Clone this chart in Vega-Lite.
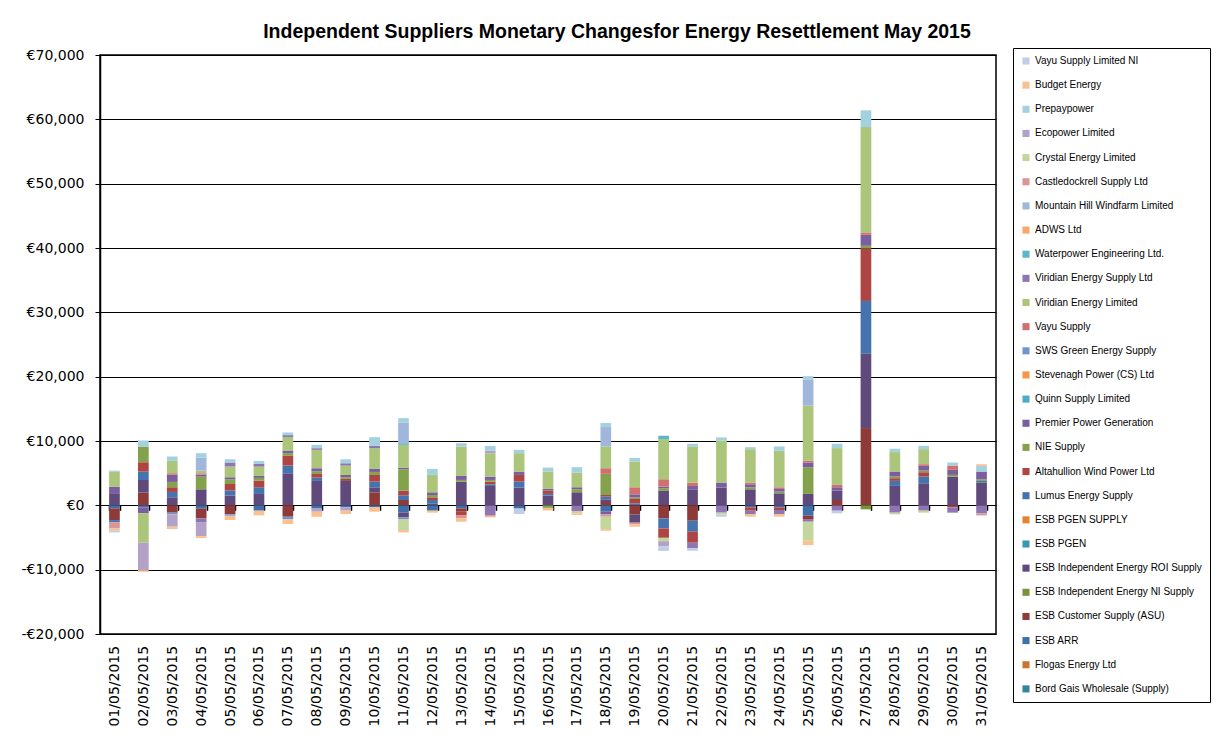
{
  "$schema": "https://vega.github.io/schema/vega-lite/v6.json",
  "width": 896,
  "height": 579,
  "autosize": "none",
  "padding": {"left": 100, "top": 55, "right": 222, "bottom": 113},
  "background": "white",
  "title": {
    "text": "Independent Suppliers Monetary Changesfor Energy Resettlement  May 2015",
    "font": "Liberation Sans",
    "fontSize": 19.5,
    "fontWeight": "bold",
    "color": "black",
    "anchor": "middle",
    "frame": "group",
    "dx": 69,
    "offset": 5
  },
  "datasets": {
    "suppliers": [
      {"k": 1, "s": "Bord Gais Wholesale (Supply)"},
      {"k": 2, "s": "Flogas Energy Ltd"},
      {"k": 3, "s": "ESB ARR"},
      {"k": 4, "s": "ESB Customer Supply (ASU)"},
      {"k": 5, "s": "ESB Independent Energy NI Supply"},
      {"k": 6, "s": "ESB Independent Energy ROI Supply"},
      {"k": 7, "s": "ESB PGEN"},
      {"k": 8, "s": "ESB PGEN SUPPLY"},
      {"k": 9, "s": "Lumus Energy Supply"},
      {"k": 10, "s": "Altahullion Wind Power Ltd"},
      {"k": 11, "s": "NIE Supply"},
      {"k": 12, "s": "Premier Power Generation"},
      {"k": 13, "s": "Quinn Supply Limited"},
      {"k": 14, "s": "Stevenagh Power (CS) Ltd"},
      {"k": 15, "s": "SWS Green Energy Supply"},
      {"k": 16, "s": "Vayu Supply"},
      {"k": 17, "s": "Viridian Energy Limited"},
      {"k": 18, "s": "Viridian Energy Supply Ltd"},
      {"k": 19, "s": "Waterpower Engineering Ltd."},
      {"k": 20, "s": "ADWS Ltd"},
      {"k": 21, "s": "Mountain Hill Windfarm Limited"},
      {"k": 22, "s": "Castledockrell Supply Ltd"},
      {"k": 23, "s": "Crystal Energy Limited"},
      {"k": 24, "s": "Ecopower Limited"},
      {"k": 25, "s": "Prepaypower"},
      {"k": 26, "s": "Budget Energy"},
      {"k": 27, "s": "Vayu Supply Limited NI"}
    ]
  },
  "data": {
    "values": [
      {"d": "01/05/2015", "k": 6, "v": 1770}, {"d": "01/05/2015", "k": 12, "v": 1140}, {"d": "01/05/2015", "k": 17, "v": 2290}, {"d": "01/05/2015", "k": 25, "v": 200},
      {"d": "01/05/2015", "k": 3, "v": -470}, {"d": "01/05/2015", "k": 4, "v": -1820}, {"d": "01/05/2015", "k": 9, "v": -360}, {"d": "01/05/2015", "k": 22, "v": -940}, {"d": "01/05/2015", "k": 26, "v": -360}, {"d": "01/05/2015", "k": 27, "v": -260},

      {"d": "02/05/2015", "k": 4, "v": 1970}, {"d": "02/05/2015", "k": 6, "v": 1970}, {"d": "02/05/2015", "k": 9, "v": 1300}, {"d": "02/05/2015", "k": 10, "v": 1460}, {"d": "02/05/2015", "k": 11, "v": 2440}, {"d": "02/05/2015", "k": 25, "v": 940},
      {"d": "02/05/2015", "k": 3, "v": -310}, {"d": "02/05/2015", "k": 12, "v": -930}, {"d": "02/05/2015", "k": 17, "v": -4570}, {"d": "02/05/2015", "k": 24, "v": -4260}, {"d": "02/05/2015", "k": 26, "v": -260},

      {"d": "03/05/2015", "k": 6, "v": 1250}, {"d": "03/05/2015", "k": 9, "v": 830}, {"d": "03/05/2015", "k": 10, "v": 730}, {"d": "03/05/2015", "k": 11, "v": 830}, {"d": "03/05/2015", "k": 12, "v": 1145}, {"d": "03/05/2015", "k": 16, "v": 210}, {"d": "03/05/2015", "k": 17, "v": 1920}, {"d": "03/05/2015", "k": 25, "v": 675},
      {"d": "03/05/2015", "k": 4, "v": -1140}, {"d": "03/05/2015", "k": 15, "v": -260}, {"d": "03/05/2015", "k": 24, "v": -1920}, {"d": "03/05/2015", "k": 26, "v": -365},

      {"d": "04/05/2015", "k": 6, "v": 2490}, {"d": "04/05/2015", "k": 11, "v": 1970}, {"d": "04/05/2015", "k": 12, "v": 310}, {"d": "04/05/2015", "k": 16, "v": 210}, {"d": "04/05/2015", "k": 17, "v": 415}, {"d": "04/05/2015", "k": 21, "v": 2030}, {"d": "04/05/2015", "k": 25, "v": 675},
      {"d": "04/05/2015", "k": 3, "v": -520}, {"d": "04/05/2015", "k": 4, "v": -1510}, {"d": "04/05/2015", "k": 18, "v": -570}, {"d": "04/05/2015", "k": 24, "v": -2180}, {"d": "04/05/2015", "k": 26, "v": -310},

      {"d": "05/05/2015", "k": 6, "v": 1510}, {"d": "05/05/2015", "k": 9, "v": 780}, {"d": "05/05/2015", "k": 10, "v": 1040}, {"d": "05/05/2015", "k": 11, "v": 730}, {"d": "05/05/2015", "k": 12, "v": 310}, {"d": "05/05/2015", "k": 17, "v": 1660}, {"d": "05/05/2015", "k": 18, "v": 620}, {"d": "05/05/2015", "k": 25, "v": 520},
      {"d": "05/05/2015", "k": 4, "v": -1400}, {"d": "05/05/2015", "k": 15, "v": -210}, {"d": "05/05/2015", "k": 26, "v": -675},

      {"d": "06/05/2015", "k": 6, "v": 1770}, {"d": "06/05/2015", "k": 9, "v": 1040}, {"d": "06/05/2015", "k": 10, "v": 1040}, {"d": "06/05/2015", "k": 11, "v": 415}, {"d": "06/05/2015", "k": 12, "v": 300}, {"d": "06/05/2015", "k": 17, "v": 1450}, {"d": "06/05/2015", "k": 18, "v": 415}, {"d": "06/05/2015", "k": 25, "v": 470},
      {"d": "06/05/2015", "k": 3, "v": -830}, {"d": "06/05/2015", "k": 26, "v": -730},

      {"d": "07/05/2015", "k": 6, "v": 4980}, {"d": "07/05/2015", "k": 9, "v": 1200}, {"d": "07/05/2015", "k": 10, "v": 1510}, {"d": "07/05/2015", "k": 11, "v": 415}, {"d": "07/05/2015", "k": 12, "v": 415}, {"d": "07/05/2015", "k": 17, "v": 2080}, {"d": "07/05/2015", "k": 18, "v": 310}, {"d": "07/05/2015", "k": 25, "v": 415},
      {"d": "07/05/2015", "k": 4, "v": -1770}, {"d": "07/05/2015", "k": 15, "v": -415}, {"d": "07/05/2015", "k": 26, "v": -730},

      {"d": "08/05/2015", "k": 6, "v": 3790}, {"d": "08/05/2015", "k": 9, "v": 520}, {"d": "08/05/2015", "k": 10, "v": 570}, {"d": "08/05/2015", "k": 11, "v": 415}, {"d": "08/05/2015", "k": 12, "v": 470}, {"d": "08/05/2015", "k": 17, "v": 2860}, {"d": "08/05/2015", "k": 18, "v": 260}, {"d": "08/05/2015", "k": 25, "v": 520},
      {"d": "08/05/2015", "k": 3, "v": -500}, {"d": "08/05/2015", "k": 24, "v": -490}, {"d": "08/05/2015", "k": 26, "v": -780},

      {"d": "09/05/2015", "k": 6, "v": 3790}, {"d": "09/05/2015", "k": 10, "v": 310}, {"d": "09/05/2015", "k": 11, "v": 260}, {"d": "09/05/2015", "k": 12, "v": 365}, {"d": "09/05/2015", "k": 17, "v": 1450}, {"d": "09/05/2015", "k": 18, "v": 365}, {"d": "09/05/2015", "k": 25, "v": 620},
      {"d": "09/05/2015", "k": 3, "v": -310}, {"d": "09/05/2015", "k": 24, "v": -520}, {"d": "09/05/2015", "k": 26, "v": -520},

      {"d": "10/05/2015", "k": 4, "v": 2020}, {"d": "10/05/2015", "k": 6, "v": 780}, {"d": "10/05/2015", "k": 9, "v": 880}, {"d": "10/05/2015", "k": 10, "v": 1040}, {"d": "10/05/2015", "k": 11, "v": 470}, {"d": "10/05/2015", "k": 12, "v": 520}, {"d": "10/05/2015", "k": 17, "v": 3170}, {"d": "10/05/2015", "k": 18, "v": 365}, {"d": "10/05/2015", "k": 25, "v": 1350},
      {"d": "10/05/2015", "k": 3, "v": -310}, {"d": "10/05/2015", "k": 26, "v": -675},

      {"d": "11/05/2015", "k": 4, "v": 830}, {"d": "11/05/2015", "k": 9, "v": 730}, {"d": "11/05/2015", "k": 10, "v": 730}, {"d": "11/05/2015", "k": 11, "v": 3320}, {"d": "11/05/2015", "k": 12, "v": 260}, {"d": "11/05/2015", "k": 17, "v": 3530}, {"d": "11/05/2015", "k": 19, "v": 260}, {"d": "11/05/2015", "k": 21, "v": 3220}, {"d": "11/05/2015", "k": 25, "v": 675},
      {"d": "11/05/2015", "k": 3, "v": -1140}, {"d": "11/05/2015", "k": 6, "v": -730}, {"d": "11/05/2015", "k": 15, "v": -260}, {"d": "11/05/2015", "k": 23, "v": -1710}, {"d": "11/05/2015", "k": 26, "v": -365},

      {"d": "12/05/2015", "k": 6, "v": 310}, {"d": "12/05/2015", "k": 9, "v": 520}, {"d": "12/05/2015", "k": 10, "v": 415}, {"d": "12/05/2015", "k": 11, "v": 365}, {"d": "12/05/2015", "k": 12, "v": 415}, {"d": "12/05/2015", "k": 17, "v": 2700}, {"d": "12/05/2015", "k": 25, "v": 940},
      {"d": "12/05/2015", "k": 3, "v": -830}, {"d": "12/05/2015", "k": 26, "v": -310},

      {"d": "13/05/2015", "k": 6, "v": 3690}, {"d": "13/05/2015", "k": 11, "v": 260}, {"d": "13/05/2015", "k": 12, "v": 620}, {"d": "13/05/2015", "k": 17, "v": 4570}, {"d": "13/05/2015", "k": 25, "v": 520},
      {"d": "13/05/2015", "k": 3, "v": -470}, {"d": "13/05/2015", "k": 4, "v": -520}, {"d": "13/05/2015", "k": 10, "v": -520}, {"d": "13/05/2015", "k": 22, "v": -520}, {"d": "13/05/2015", "k": 26, "v": -520},

      {"d": "14/05/2015", "k": 6, "v": 3010}, {"d": "14/05/2015", "k": 9, "v": 260}, {"d": "14/05/2015", "k": 10, "v": 415}, {"d": "14/05/2015", "k": 11, "v": 260}, {"d": "14/05/2015", "k": 12, "v": 520}, {"d": "14/05/2015", "k": 17, "v": 3630}, {"d": "14/05/2015", "k": 24, "v": 415}, {"d": "14/05/2015", "k": 25, "v": 730},
      {"d": "14/05/2015", "k": 18, "v": -1510}, {"d": "14/05/2015", "k": 22, "v": -260}, {"d": "14/05/2015", "k": 26, "v": -100},

      {"d": "15/05/2015", "k": 6, "v": 2750}, {"d": "15/05/2015", "k": 9, "v": 935}, {"d": "15/05/2015", "k": 10, "v": 1040}, {"d": "15/05/2015", "k": 12, "v": 520}, {"d": "15/05/2015", "k": 17, "v": 2860}, {"d": "15/05/2015", "k": 25, "v": 520},
      {"d": "15/05/2015", "k": 3, "v": -500}, {"d": "15/05/2015", "k": 27, "v": -850},

      {"d": "16/05/2015", "k": 6, "v": 1510}, {"d": "16/05/2015", "k": 9, "v": 260}, {"d": "16/05/2015", "k": 10, "v": 520}, {"d": "16/05/2015", "k": 12, "v": 260}, {"d": "16/05/2015", "k": 17, "v": 2700}, {"d": "16/05/2015", "k": 25, "v": 620},
      {"d": "16/05/2015", "k": 11, "v": -400}, {"d": "16/05/2015", "k": 26, "v": -400},

      {"d": "17/05/2015", "k": 6, "v": 2030}, {"d": "17/05/2015", "k": 11, "v": 470}, {"d": "17/05/2015", "k": 12, "v": 310}, {"d": "17/05/2015", "k": 17, "v": 2290}, {"d": "17/05/2015", "k": 25, "v": 830},
      {"d": "17/05/2015", "k": 18, "v": -880}, {"d": "17/05/2015", "k": 23, "v": -365}, {"d": "17/05/2015", "k": 26, "v": -260},

      {"d": "18/05/2015", "k": 4, "v": 520}, {"d": "18/05/2015", "k": 6, "v": 415}, {"d": "18/05/2015", "k": 9, "v": 415}, {"d": "18/05/2015", "k": 10, "v": 260}, {"d": "18/05/2015", "k": 11, "v": 3280}, {"d": "18/05/2015", "k": 16, "v": 880}, {"d": "18/05/2015", "k": 17, "v": 3380}, {"d": "18/05/2015", "k": 21, "v": 3020}, {"d": "18/05/2015", "k": 25, "v": 620},
      {"d": "18/05/2015", "k": 3, "v": -990}, {"d": "18/05/2015", "k": 12, "v": -415}, {"d": "18/05/2015", "k": 22, "v": -365}, {"d": "18/05/2015", "k": 23, "v": -1920}, {"d": "18/05/2015", "k": 26, "v": -260},

      {"d": "19/05/2015", "k": 9, "v": 310}, {"d": "19/05/2015", "k": 10, "v": 675}, {"d": "19/05/2015", "k": 11, "v": 260}, {"d": "19/05/2015", "k": 12, "v": 470}, {"d": "19/05/2015", "k": 16, "v": 1090}, {"d": "19/05/2015", "k": 17, "v": 4000}, {"d": "19/05/2015", "k": 25, "v": 570},
      {"d": "19/05/2015", "k": 4, "v": -1400}, {"d": "19/05/2015", "k": 6, "v": -1300}, {"d": "19/05/2015", "k": 22, "v": -260}, {"d": "19/05/2015", "k": 26, "v": -365},

      {"d": "20/05/2015", "k": 6, "v": 2240}, {"d": "20/05/2015", "k": 11, "v": 415}, {"d": "20/05/2015", "k": 12, "v": 260}, {"d": "20/05/2015", "k": 16, "v": 1140}, {"d": "20/05/2015", "k": 17, "v": 6240}, {"d": "20/05/2015", "k": 19, "v": 520},
      {"d": "20/05/2015", "k": 4, "v": -2030}, {"d": "20/05/2015", "k": 9, "v": -1560}, {"d": "20/05/2015", "k": 10, "v": -1460}, {"d": "20/05/2015", "k": 23, "v": -520}, {"d": "20/05/2015", "k": 24, "v": -780}, {"d": "20/05/2015", "k": 27, "v": -730},

      {"d": "21/05/2015", "k": 6, "v": 2490}, {"d": "21/05/2015", "k": 12, "v": 520}, {"d": "21/05/2015", "k": 16, "v": 520}, {"d": "21/05/2015", "k": 17, "v": 5610}, {"d": "21/05/2015", "k": 25, "v": 415},
      {"d": "21/05/2015", "k": 4, "v": -2390}, {"d": "21/05/2015", "k": 9, "v": -1710}, {"d": "21/05/2015", "k": 10, "v": -1710}, {"d": "21/05/2015", "k": 18, "v": -880}, {"d": "21/05/2015", "k": 27, "v": -365},

      {"d": "22/05/2015", "k": 6, "v": 2760}, {"d": "22/05/2015", "k": 12, "v": 780}, {"d": "22/05/2015", "k": 17, "v": 6500}, {"d": "22/05/2015", "k": 25, "v": 520},
      {"d": "22/05/2015", "k": 18, "v": -1140}, {"d": "22/05/2015", "k": 23, "v": -260}, {"d": "22/05/2015", "k": 27, "v": -365},

      {"d": "23/05/2015", "k": 6, "v": 2490}, {"d": "23/05/2015", "k": 11, "v": 310}, {"d": "23/05/2015", "k": 12, "v": 470}, {"d": "23/05/2015", "k": 16, "v": 260}, {"d": "23/05/2015", "k": 17, "v": 5200}, {"d": "23/05/2015", "k": 25, "v": 310},
      {"d": "23/05/2015", "k": 3, "v": -310}, {"d": "23/05/2015", "k": 10, "v": -520}, {"d": "23/05/2015", "k": 18, "v": -520}, {"d": "23/05/2015", "k": 26, "v": -415},

      {"d": "24/05/2015", "k": 6, "v": 1870}, {"d": "24/05/2015", "k": 11, "v": 260}, {"d": "24/05/2015", "k": 12, "v": 415}, {"d": "24/05/2015", "k": 16, "v": 260}, {"d": "24/05/2015", "k": 17, "v": 5670}, {"d": "24/05/2015", "k": 25, "v": 675},
      {"d": "24/05/2015", "k": 3, "v": -310}, {"d": "24/05/2015", "k": 10, "v": -415}, {"d": "24/05/2015", "k": 18, "v": -620}, {"d": "24/05/2015", "k": 26, "v": -415},

      {"d": "25/05/2015", "k": 6, "v": 1770}, {"d": "25/05/2015", "k": 11, "v": 4160}, {"d": "25/05/2015", "k": 12, "v": 730}, {"d": "25/05/2015", "k": 16, "v": 260}, {"d": "25/05/2015", "k": 17, "v": 8580}, {"d": "25/05/2015", "k": 21, "v": 4060}, {"d": "25/05/2015", "k": 25, "v": 520},
      {"d": "25/05/2015", "k": 3, "v": -1610}, {"d": "25/05/2015", "k": 4, "v": -520}, {"d": "25/05/2015", "k": 18, "v": -415}, {"d": "25/05/2015", "k": 23, "v": -2960}, {"d": "25/05/2015", "k": 26, "v": -675},

      {"d": "26/05/2015", "k": 4, "v": 830}, {"d": "26/05/2015", "k": 6, "v": 1460}, {"d": "26/05/2015", "k": 12, "v": 520}, {"d": "26/05/2015", "k": 16, "v": 365}, {"d": "26/05/2015", "k": 17, "v": 5720}, {"d": "26/05/2015", "k": 25, "v": 675},
      {"d": "26/05/2015", "k": 18, "v": -830}, {"d": "26/05/2015", "k": 27, "v": -415},

      {"d": "27/05/2015", "k": 4, "v": 12010}, {"d": "27/05/2015", "k": 6, "v": 11540}, {"d": "27/05/2015", "k": 9, "v": 8220}, {"d": "27/05/2015", "k": 10, "v": 8160}, {"d": "27/05/2015", "k": 11, "v": 415}, {"d": "27/05/2015", "k": 12, "v": 1710}, {"d": "27/05/2015", "k": 16, "v": 365}, {"d": "27/05/2015", "k": 17, "v": 16380}, {"d": "27/05/2015", "k": 25, "v": 2600},
      {"d": "27/05/2015", "k": 5, "v": -620},

      {"d": "28/05/2015", "k": 6, "v": 3020}, {"d": "28/05/2015", "k": 9, "v": 780}, {"d": "28/05/2015", "k": 10, "v": 415}, {"d": "28/05/2015", "k": 11, "v": 260}, {"d": "28/05/2015", "k": 12, "v": 780}, {"d": "28/05/2015", "k": 17, "v": 3020}, {"d": "28/05/2015", "k": 25, "v": 520},
      {"d": "28/05/2015", "k": 18, "v": -1140}, {"d": "28/05/2015", "k": 23, "v": -260},

      {"d": "29/05/2015", "k": 6, "v": 3430}, {"d": "29/05/2015", "k": 9, "v": 1040}, {"d": "29/05/2015", "k": 10, "v": 675}, {"d": "29/05/2015", "k": 11, "v": 260}, {"d": "29/05/2015", "k": 12, "v": 730}, {"d": "29/05/2015", "k": 16, "v": 260}, {"d": "29/05/2015", "k": 17, "v": 2340}, {"d": "29/05/2015", "k": 25, "v": 520},
      {"d": "29/05/2015", "k": 18, "v": -830}, {"d": "29/05/2015", "k": 23, "v": -310},

      {"d": "30/05/2015", "k": 6, "v": 4470}, {"d": "30/05/2015", "k": 11, "v": 260}, {"d": "30/05/2015", "k": 12, "v": 780}, {"d": "30/05/2015", "k": 16, "v": 675}, {"d": "30/05/2015", "k": 25, "v": 470},
      {"d": "30/05/2015", "k": 10, "v": -310}, {"d": "30/05/2015", "k": 18, "v": -830},

      {"d": "31/05/2015", "k": 6, "v": 3530}, {"d": "31/05/2015", "k": 9, "v": 260}, {"d": "31/05/2015", "k": 11, "v": 260}, {"d": "31/05/2015", "k": 12, "v": 1200}, {"d": "31/05/2015", "k": 25, "v": 880}, {"d": "31/05/2015", "k": 26, "v": 260},
      {"d": "31/05/2015", "k": 18, "v": -1250}, {"d": "31/05/2015", "k": 22, "v": -310}
    ]
  },
  "transform": [
    {"lookup": "k", "from": {"data": {"name": "suppliers"}, "key": "k", "fields": ["s"]}}
  ],
  "mark": {"type": "bar"},
  "encoding": {
    "x": {
      "field": "d",
      "type": "ordinal",
      "scale": {"paddingInner": 0.63, "paddingOuter": 0.315},
      "axis": {
        "title": null,
        "orient": "bottom",
        "offset": -128.7,
        "domain": false,
        "ticks": true,
        "tickBand": "extent",
        "tickSize": 5,
        "tickColor": "black",
        "tickWidth": 1.5,
        "grid": false,
        "labelAngle": -90,
        "labelPadding": 135,
        "labelFont": "DejaVu Sans",
        "labelFontSize": 14,
        "labelColor": "black"
      }
    },
    "y": {
      "field": "v",
      "type": "quantitative",
      "stack": "zero",
      "scale": {"domain": [-20000, 70000], "nice": false, "zero": false},
      "axis": {
        "title": null,
        "values": [-20000, -10000, 0, 10000, 20000, 30000, 40000, 50000, 60000, 70000],
        "grid": true,
        "gridColor": "black",
        "gridOpacity": 1,
        "gridWidth": 1,
        "domain": true,
        "domainColor": "black",
        "domainWidth": 1.5,
        "tickColor": "black",
        "tickSize": 5,
        "labelPadding": 11,
        "labelFont": "DejaVu Sans",
        "labelFontSize": 14,
        "labelColor": "black",
        "labelExpr": "(datum.value < 0 ? '-€' : '€') + format(abs(datum.value), ',')"
      }
    },
    "color": {
      "field": "s",
      "type": "nominal",
      "scale": {
        "domain": [
          "Vayu Supply Limited NI", "Budget Energy", "Prepaypower", "Ecopower Limited", "Crystal Energy Limited",
          "Castledockrell Supply Ltd", "Mountain Hill Windfarm Limited", "ADWS Ltd", "Waterpower Engineering Ltd.",
          "Viridian Energy Supply Ltd", "Viridian Energy Limited", "Vayu Supply", "SWS Green Energy Supply",
          "Stevenagh Power (CS) Ltd", "Quinn Supply Limited", "Premier Power Generation", "NIE Supply",
          "Altahullion Wind Power Ltd", "Lumus Energy Supply", "ESB PGEN SUPPLY", "ESB PGEN",
          "ESB Independent Energy ROI Supply", "ESB Independent Energy NI Supply", "ESB Customer Supply (ASU)",
          "ESB ARR", "Flogas Energy Ltd", "Bord Gais Wholesale (Supply)"
        ],
        "range": [
          "#BFCDE5", "#FAC090", "#A3D1DF", "#B3A2C7", "#C3D69B",
          "#D99694", "#A0B6DA", "#F9A66A", "#5AB6CD",
          "#8F75B2", "#ABC57A", "#D2706F", "#6F95CC",
          "#F79646", "#4BACC6", "#7A5E9D", "#84A24B",
          "#AE4542", "#4573AD", "#E38433", "#3B97AE",
          "#5F4A7B", "#77933C", "#8E3A39",
          "#3F6FA9", "#C87432", "#31859C"
        ]
      },
      "legend": {
        "title": null,
        "orient": "none",
        "legendX": 913,
        "legendY": -7,
        "symbolType": "square",
        "symbolSize": 50,
        "symbolStrokeWidth": 0,
        "labelFont": "Liberation Sans",
        "labelFontSize": 10,
        "labelColor": "black",
        "labelLimit": 300,
        "labelOffset": 4,
        "rowPadding": 14.15,
        "padding": 8,
        "strokeColor": "black",
        "fillColor": "white"
      }
    },
    "order": {"field": "k", "type": "quantitative", "sort": "ascending"}
  },
  "config": {
    "view": {"stroke": "black", "strokeWidth": 1.5},
    "axis": {"labelOverlap": false}
  }
}
